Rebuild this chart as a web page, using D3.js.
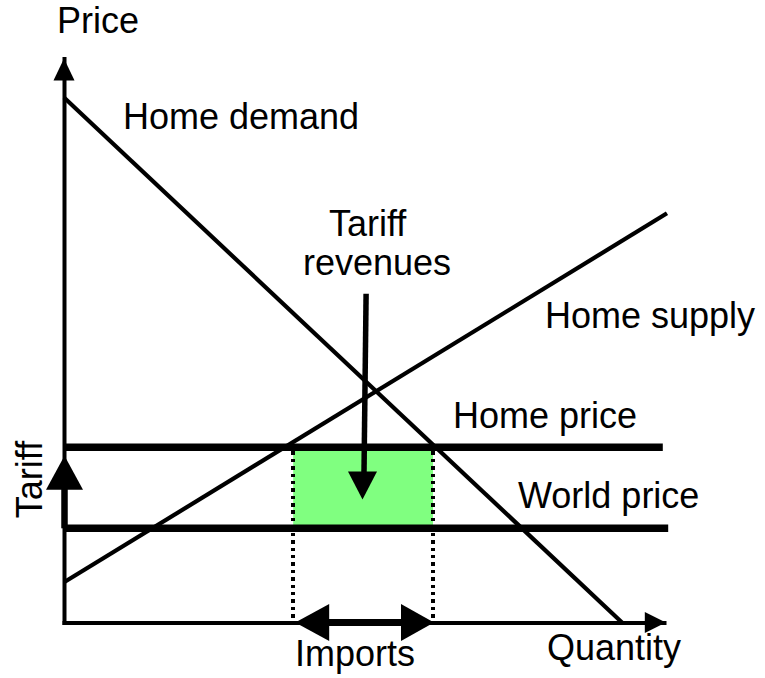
<!DOCTYPE html>
<html>
<head>
<meta charset="utf-8">
<script src="https://cdn.jsdelivr.net/npm/d3@7"></script>
<style>
  body { margin: 0; background: #fff; }
  svg { display: block; }
  text { font-family: "Liberation Sans", Arial, sans-serif; font-size: 36px; fill: #000; }
</style>
</head>
<body>
<script>
// ---- data (economic units) ----
const quantityDomain = [0, 100];
const priceDomain = [0, 94];
const demandPoints = [[0, 87.5], [93, 0]];
const supplyPoints = [[0, 6.7], [100.5, 68.2]];
const homePrice = 29.2;
const worldPrice = 15.7;
const homePriceEnd = 99.8;
const worldPriceEnd = 100.7;
const importsRange = [38.2, 61.5];
const revenueArrow = { from: [50.35, 54.8], to: [50.0, 20.5] };
const tariffArrowTip = 27.8;
const labels = [
  { text: "Price", x: 57, y: 33 },
  { text: "Home demand", x: 123, y: 129 },
  { text: "Tariff", x: 329, y: 236 },
  { text: "revenues", x: 303, y: 275 },
  { text: "Home supply", x: 545, y: 328 },
  { text: "Home price", x: 453, y: 428 },
  { text: "World price", x: 518, y: 508 },
  { text: "Quantity", x: 547, y: 660 },
  { text: "Imports", x: 295, y: 666 }
];

const W = 765, H = 678;
const svg = d3.select("body").append("svg").attr("width", W).attr("height", H);

const x = d3.scaleLinear().domain(quantityDomain).range([64, 664]);
const y = d3.scaleLinear().domain(priceDomain).range([622.5, 58.5]);

// green tariff revenue area
svg.append("rect")
  .attr("x", x(importsRange[0]))
  .attr("y", y(homePrice))
  .attr("width", x(importsRange[1]) - x(importsRange[0]))
  .attr("height", y(worldPrice) - y(homePrice))
  .attr("fill", "#80FF80");

// dotted import bounds
importsRange.forEach(q => {
  const xx = Math.round(x(q));
  svg.append("line")
    .attr("x1", xx).attr("x2", xx)
    .attr("y1", y(homePrice) + 4).attr("y2", y(0))
    .attr("stroke", "#000").attr("stroke-width", 4)
    .attr("stroke-dasharray", "3.5,3.9")
    .attr("shape-rendering", "crispEdges");
});

// price lines
svg.append("line")
  .attr("x1", x(0)).attr("x2", x(homePriceEnd))
  .attr("y1", y(homePrice)).attr("y2", y(homePrice))
  .attr("stroke", "#000").attr("stroke-width", 7.5);
svg.append("line")
  .attr("x1", x(0)).attr("x2", x(worldPriceEnd))
  .attr("y1", y(worldPrice)).attr("y2", y(worldPrice))
  .attr("stroke", "#000").attr("stroke-width", 7.5);

// demand & supply
const line = d3.line().x(d => x(d[0])).y(d => y(d[1]));
svg.append("path").attr("d", line(demandPoints))
  .attr("fill", "none").attr("stroke", "#000").attr("stroke-width", 4.2);
svg.append("path").attr("d", line(supplyPoints))
  .attr("fill", "none").attr("stroke", "#000").attr("stroke-width", 4.2);

// axes (no ticks)
const xAxis = svg.append("g").attr("transform", `translate(0,${y(0)})`)
  .call(d3.axisBottom(x).tickValues([]).tickSizeOuter(0));
const yAxis = svg.append("g").attr("transform", `translate(${x(0)},0)`)
  .call(d3.axisLeft(y).tickValues([]).tickSizeOuter(0));
[xAxis, yAxis].forEach(g => g.select(".domain")
  .attr("stroke", "#000").attr("stroke-width", 4)
  .attr("stroke-linecap", "square"));

// arrowhead helper: tip (tx,ty), direction unit (dx,dy), length, half width
function head(tx, ty, dx, dy, len, hw) {
  const bx = tx - dx * len, by = ty - dy * len;
  const px = -dy, py = dx;
  const p = d3.path();
  p.moveTo(tx, ty);
  p.lineTo(bx + px * hw, by + py * hw);
  p.lineTo(bx - px * hw, by - py * hw);
  p.closePath();
  svg.append("path").attr("d", p.toString()).attr("fill", "#000");
}

// axis arrows
head(x(0), y(priceDomain[1]), 0, -1, 22, 10.5);
head(x(100.3), y(0), 1, 0, 21, 10.5);

// tariff arrow on y axis
svg.append("line")
  .attr("x1", x(0) + 0.5).attr("x2", x(0) + 0.5)
  .attr("y1", y(worldPrice)).attr("y2", y(tariffArrowTip) + 30)
  .attr("stroke", "#000").attr("stroke-width", 6.5);
head(x(0) + 0.5, y(tariffArrowTip), 0, -1, 34, 18.5);

// imports double arrow
svg.append("line")
  .attr("x1", x(importsRange[0]) + 30).attr("x2", x(importsRange[1]) - 30)
  .attr("y1", y(0)).attr("y2", y(0))
  .attr("stroke", "#000").attr("stroke-width", 7);
head(x(importsRange[0]) + 2, y(0), -1, 0, 34, 18.5);
head(x(importsRange[1]) + 1, y(0), 1, 0, 33, 18.5);

// tariff revenue arrow
const rx1 = x(revenueArrow.from[0]), ry1 = y(revenueArrow.from[1]);
const rx2 = x(revenueArrow.to[0]), ry2 = y(revenueArrow.to[1]);
svg.append("line")
  .attr("x1", rx1).attr("y1", ry1)
  .attr("x2", rx2).attr("y2", ry2 - 26)
  .attr("stroke", "#000").attr("stroke-width", 5.5);
head(rx2 - 1.5, ry2, 0, 1, 28, 14.5);

// labels
svg.selectAll("text.lbl").data(labels).enter().append("text")
  .attr("class", "lbl")
  .attr("x", d => d.x).attr("y", d => d.y)
  .text(d => d.text);

svg.append("text")
  .attr("transform", "translate(42,479.5) rotate(-90)")
  .attr("text-anchor", "middle")
  .text("Tariff");
</script>
</body>
</html>
